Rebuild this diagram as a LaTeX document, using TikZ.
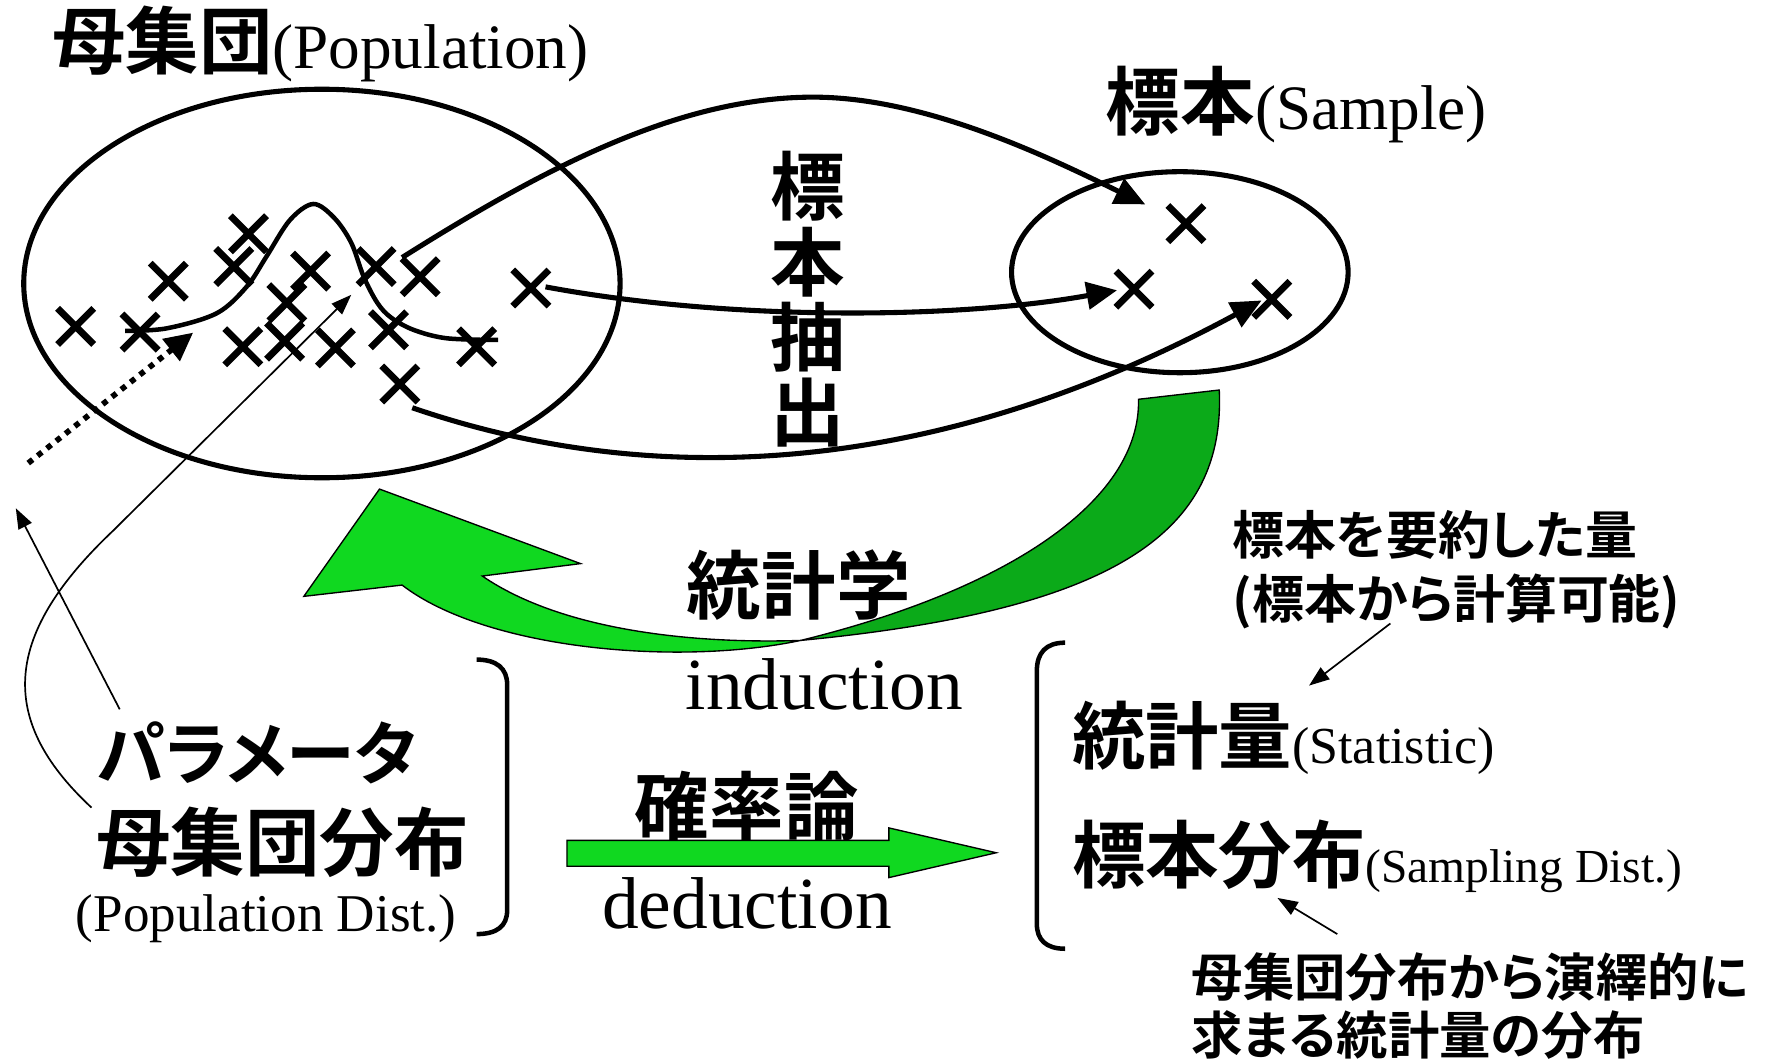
\documentclass[tikz,border=0pt]{standalone}
\usepackage{fontspec}
\setmainfont{Liberation Serif}
\newfontfamily\cjk{Noto Sans CJK JP Bold}
\newfontfamily\cjkp{Noto Sans CJK JP Bold}[RawFeature=+palt]
\usetikzlibrary{arrows.meta,shapes.geometric}
\definecolor{lgreen}{RGB}{16,216,32}
\definecolor{dgreen}{RGB}{11,170,25}
\tikzset{
  xmark/.pic={\draw[line width=6pt] (-16,-16) -- (16,16) (-16,16) -- (16,-16);},
  boldcurve/.style={line width=4.5pt},
  bigarrow/.style={line width=4.5pt, -{Triangle[length=27pt,width=24pt]}},
  thinarrow/.style={line width=1.5pt, -{Triangle[length=18pt,width=13pt]}},
  txt/.style={inner sep=0pt, anchor=base west},
  band/.style={draw=black, line width=1.2pt},
  bracketline/.style={line width=4pt},
  oval/.style={ellipse, draw, line width=4.5pt, inner sep=0pt},
}
\begin{document}
\begin{tikzpicture}[x=1pt,y=-1pt]
\useasboundingbox (0,0) rectangle (1568,940);
\fill[white] (0,0) rectangle (1568,940);

% ellipses
\node[oval, minimum width=528pt, minimum height=344pt] (pop) at (285,251) {};
\node[oval, minimum width=298pt, minimum height=178pt] (samp) at (1044.6,241) {};

% crosses
\foreach \n/\px/\py in {c1/67/289, c2/124/294, c3/149/249, c4/220/207, c5/207/236,
  c6/275/240, c7/254/268, c8/215/307, c9/252/302, c10/297/308, c11/333/236,
  c12/372/245, c13/344/292, c14/422/307, c15/354/340, c16/470/255,
  s1/1050/198, s2/1004/256, s3/1126/265}
  {\coordinate (\n) at (\px,\py); \pic at (\n) {xmark};}

% bell curve
\draw[line width=4pt] plot[smooth, tension=0.55] coordinates {(110.7,293) (147.6,290.7) (191.8,277.4)
  (218.4,253.8) (236,227) (256.7,194.8) (277.4,180.6) (296,193) (311,215) (322,245)
  (334,268) (346,281) (366,292) (395.5,299.5) (441,301)};

% sampling arrows
\coordinate (u0) at (356,228); \coordinate (u1) at (1014,181);
\coordinate (m0) at (483,254); \coordinate (m1) at (989,257);
\coordinate (l0) at (365,361); \coordinate (l1) at (1117,266);
\draw[bigarrow] (u0) .. controls (480,150) and (600,86) .. (720,86)
  .. controls (820,86) and (930,140) .. (u1);
\draw[bigarrow] (m0) .. controls (650,285) and (850,282) .. (m1);
\draw[bigarrow] (l0) .. controls (560,428) and (810,432) .. (l1);

% dotted arrow
\coordinate (d0) at (25,410); \coordinate (d1) at (171,294.5);
\draw[line width=5pt, dash pattern=on 5pt off 5.5pt, -{Triangle[length=25pt,width=24pt]}] (d0) -- (d1);

% texts
\node[txt] (title) at (46,61) {{\cjk\fontsize{65}{65}\selectfont 母集団}{\fontsize{56}{56}\selectfont(Population)}};
\node[txt] (stitle) at (979,115) {{\cjk\fontsize{66}{66}\selectfont 標本}{\fontsize{56}{56}\selectfont(Sample)}};
\node[inner sep=0pt, anchor=center, align=center, font=\cjk\fontsize{66}{66.5}\selectfont] (vert) at (715,265) {標\\本\\抽\\出};

\node[txt, font=\cjk\fontsize{66}{66}\selectfont] (stat) at (608,543) {統計学};
\node[txt, font=\fontsize{65}{65}\selectfont] (ind) at (607,628) {induction};
\node[txt, font=\cjk\fontsize{66}{66}\selectfont] (prob) at (562,739) {確率論};
\node[txt, font=\fontsize{65}{65}\selectfont] (ded) at (533,822) {deduction};

\node[txt, font=\cjkp\fontsize{61}{61}\selectfont] (param) at (86,690) {パラメータ};
\node[txt, font=\cjk\fontsize{66}{66}\selectfont] (popd) at (85,771) {母集団分布};
\node[txt, font=\fontsize{47}{47}\selectfont] (popdist) at (67,825) {(Population Dist.)};

\node[txt] (stq) at (949,676) {{\cjk\fontsize{65}{65}\selectfont 統計量}{\fontsize{46}{46}\selectfont(Statistic)}};
\node[txt] (sdist) at (949,781) {{\cjk\fontsize{65}{65}\selectfont 標本分布}{\fontsize{42}{42}\selectfont(Sampling Dist.)}};

\node[inner sep=0pt, anchor=north west, align=left, font=\cjkp\fontsize{46}{56}\selectfont] (ann1) at (1091,452) {標本を要約した量\\(標本から計算可能)};
\node[inner sep=0pt, anchor=north west, align=left, font=\cjkp\fontsize{45.5}{52}\selectfont] (ann2) at (1055,843) {母集団分布から演繹的に\\求まる統計量の分布};

% brackets
\draw[bracketline] (422,584) .. controls (440,584) and (449,592) .. (449,606) -- (449,806)
  .. controls (449,820) and (440,827) .. (422,827);
\draw[bracketline] (943,569) .. controls (926,569) and (918,578) .. (918,594) -- (918,818)
  .. controls (918,832) and (926,840) .. (943,840);

% induction arrow (twisted ribbon)
\draw[band, fill=lgreen] (356,518) -- (269,528) -- (336,433) -- (514,499) -- (427,510)
  .. controls (500,560) and (620,570) .. (709,567)
  .. controls (600,590) and (430,575) .. (356,518) -- cycle;
\draw[band, fill=dgreen] (1008,353.5) -- (1079.5,345.3)
  .. controls (1085,470) and (990,540) .. (709,567)
  .. controls (900,520) and (1010,440) .. (1008,353.5) -- cycle;

% deduction arrow
\draw[band, fill=lgreen] (502,744) -- (787,744) -- (787,733) -- (882,755) -- (787,777)
  -- (787,767) -- (502,767) -- cycle;

% thin annotation arrows
\coordinate (p1) at (81,715); \coordinate (pt1) at (311,261);
\coordinate (p2) at (106,628); \coordinate (pt2) at (14,450);
\draw[thinarrow] (p1) .. controls (-5,635) and (5,560) .. (100,470) -- (pt1);
\draw[thinarrow] (p2) -- (pt2);
\coordinate (a1) at (1231,552); \coordinate (a1e) at (1159,607);
\coordinate (a2) at (1184,827); \coordinate (a2e) at (1131,795);
\draw[thinarrow] (a1) -- (a1e);
\draw[thinarrow] (a2) -- (a2e);
\end{tikzpicture}
\end{document}
